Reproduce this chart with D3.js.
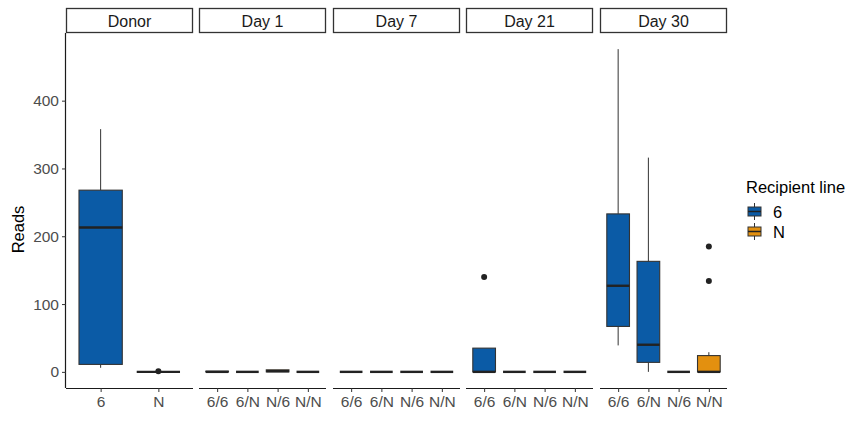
<!DOCTYPE html>
<head>
  <meta charset="utf-8">
  <script src="https://d3js.org/d3.v7.min.js"></script>
  <style>
    body { margin: 0; background: #fff; }
    svg { width: 852px; height: 423px; font-family: 'Liberation Sans', Arial, sans-serif; }
  </style>
</head>

<body>
  <svg></svg>

  <script>
    const width = 852;
    const height = 423;

    // facets and their x categories
    const facets = ['Donor', 'Day 1', 'Day 7', 'Day 21', 'Day 30'];
    const donorCats = ['6', 'N'];
    const dayCats = ['6/6', '6/N', 'N/6', 'N/N'];
    const yTicks = [0, 100, 200, 300, 400];

    // one entry per box
    const boxFacet  = ['Donor', 'Donor', 'Day 1', 'Day 1', 'Day 1', 'Day 1', 'Day 7', 'Day 7', 'Day 7', 'Day 7', 'Day 21', 'Day 21', 'Day 21', 'Day 21', 'Day 30', 'Day 30', 'Day 30', 'Day 30'];
    const boxGroup  = ['6', 'N', '6/6', '6/N', 'N/6', 'N/N', '6/6', '6/N', 'N/6', 'N/N', '6/6', '6/N', 'N/6', 'N/N', '6/6', '6/N', 'N/6', 'N/N'];
    const boxLower  = [6, 0, 0, 0, 0, 0, 0, 0, 0, 0, 0, 0, 0, 0, 39, 0, 0, 0];
    const boxQ1     = [11, 0, 0, 0, 0, 0, 0, 0, 0, 0, 0, 0, 0, 0, 67, 14, 0, 0];
    const boxMedian = [213, 0, 0, 0, 1, 0, 0, 0, 0, 0, 0, 0, 0, 0, 127, 40, 0, 0];
    const boxQ3     = [268, 0, 1, 0, 3, 0, 0, 0, 0, 0, 35, 0, 0, 0, 233, 163, 0, 24];
    const boxUpper  = [358, 0, 1, 0, 3, 0, 0, 0, 0, 0, 35, 0, 0, 0, 476, 316, 0, 29];
    const boxOutliers = [[], [1], [], [], [], [], [], [], [], [], [140], [], [], [], [], [], [], [134, 185]];

    const lines = ['6', 'N'];
    const lineColors = ['#0b5ba6', '#e3900f'];

    const color = d3.scaleOrdinal().domain(lines).range(lineColors);

    const svg = d3.select('svg');

    const panelTop = 33, panelBottom = 388;
    const panelLeft = [66, 199, 333, 466, 600];
    const panelW = 127;

    const y = d3.scaleLinear().domain([-23.8, 499.8]).range([panelBottom, panelTop]);

    const boxes = boxFacet.map((f, i) => ({
      facet: f, group: boxGroup[i], line: boxGroup[i][0],
      lower: boxLower[i], q1: boxQ1[i], median: boxMedian[i], q3: boxQ3[i], upper: boxUpper[i],
      outliers: boxOutliers[i]
    }));

    facets.forEach((f, fi) => {
      const cats = f === 'Donor' ? donorCats : dayCats;
      const x0 = panelLeft[fi];
      // ggplot-style discrete scale: 0.6 unit padding each side
      const unit = panelW / (cats.length + 0.2);
      const x = d3.scalePoint().domain(cats).range([x0 + 0.6 * unit, x0 + panelW - 0.6 * unit]);
      const bw = 0.75 * unit;

      const g = svg.append('g');

      // strip
      g.append('rect')
        .attr('x', x0 + 0.5).attr('y', 8.5).attr('width', panelW - 1).attr('height', panelTop - 9)
        .attr('fill', '#fff').attr('stroke', '#333').attr('stroke-width', 1.3);
      g.append('text')
        .attr('x', x0 + panelW / 2).attr('y', 26.5)
        .attr('text-anchor', 'middle').attr('font-size', 16).attr('fill', '#1a1a1a')
        .text(f);

      // x axis
      const xAxis = g.append('g').attr('transform', `translate(0,${panelBottom})`)
        .call(d3.axisBottom(x).tickSize(4).tickPadding(4).tickSizeOuter(0));
      xAxis.select('.domain').attr('d', `M${x0},0.5H${x0 + panelW}`).attr('stroke', '#1a1a1a').attr('stroke-width', 1.2);
      xAxis.selectAll('.tick line').attr('stroke', '#333');
      xAxis.selectAll('.tick text').attr('font-size', 15.5).attr('fill', '#4d4d4d').attr('font-family', null);

      if (fi === 0) {
        const yAxis = svg.append('g').attr('transform', `translate(${x0},0)`)
          .call(d3.axisLeft(y).tickValues(yTicks).tickSize(4).tickPadding(3).tickSizeOuter(0));
        yAxis.select('.domain').attr('d', `M-0.5,${panelTop}V${panelBottom}`).attr('stroke', '#1a1a1a').attr('stroke-width', 1.2);
        yAxis.selectAll('.tick line').attr('stroke', '#333');
        yAxis.selectAll('.tick text').attr('font-size', 15.5).attr('fill', '#4d4d4d').attr('font-family', null);
      }

      const pb = g.selectAll('g.box')
        .data(boxes.filter(b => b.facet === f)).enter().append('g')
        .attr('transform', d => `translate(${x(d.group)},0)`);

      pb.append('line')
        .attr('y1', d => y(d.upper)).attr('y2', d => y(d.q3))
        .attr('stroke', '#333').attr('stroke-width', 1);
      pb.append('line')
        .attr('y1', d => y(d.q1)).attr('y2', d => y(d.lower))
        .attr('stroke', '#333').attr('stroke-width', 1);
      pb.append('rect')
        .attr('x', -bw / 2).attr('width', bw)
        .attr('y', d => y(d.q3)).attr('height', d => y(d.q1) - y(d.q3))
        .attr('fill', d => color(d.line)).attr('stroke', '#333').attr('stroke-width', 1.1);
      pb.append('line')
        .attr('x1', -bw / 2).attr('x2', bw / 2)
        .attr('y1', d => y(d.median)).attr('y2', d => y(d.median))
        .attr('stroke', '#222').attr('stroke-width', 2.4);
      pb.selectAll('circle')
        .data(d => d.outliers).enter().append('circle')
        .attr('r', 3).attr('cy', v => y(v)).attr('fill', '#222');
    });

    // y title
    svg.append('text')
      .attr('transform', `translate(24,${(panelTop + panelBottom) / 2 + 19}) rotate(-90)`)
      .attr('text-anchor', 'middle').attr('font-size', 16.5).attr('fill', '#000')
      .text('Reads');

    // legend
    const legend = svg.append('g').attr('transform', 'translate(746,0)');
    legend.append('text').attr('x', 0).attr('y', 193).attr('font-size', 16.5).text('Recipient line');
    const keys = legend.selectAll('g.key').data(lines).enter().append('g')
      .attr('transform', (d, i) => `translate(0,${203 + i * 20})`);
    keys.append('line').attr('x1', 8.5).attr('x2', 8.5).attr('y1', 0).attr('y2', 17)
      .attr('stroke', '#333').attr('stroke-width', 1);
    keys.append('rect').attr('x', 2).attr('y', 4).attr('width', 13).attr('height', 9)
      .attr('fill', d => color(d)).attr('stroke', '#333').attr('stroke-width', 1);
    keys.append('line').attr('x1', 2).attr('x2', 15).attr('y1', 8.5).attr('y2', 8.5)
      .attr('stroke', '#222').attr('stroke-width', 1.5);
    keys.append('text').attr('x', 27).attr('y', 14.5).attr('font-size', 16.5).text(d => d);
  </script>
</body>
